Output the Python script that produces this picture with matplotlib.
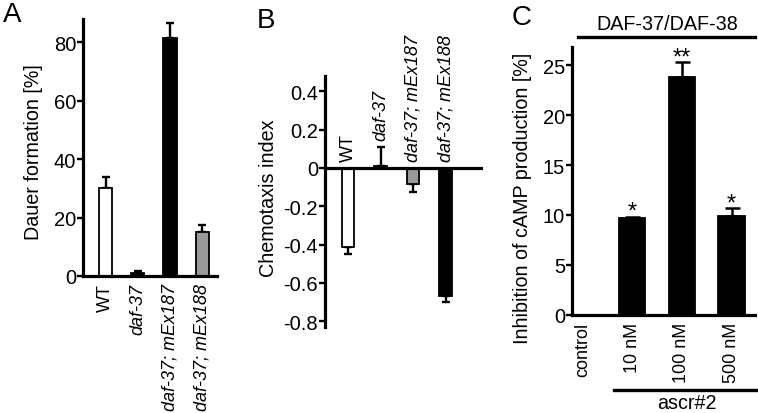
import matplotlib
matplotlib.use("Agg")
import matplotlib.pyplot as plt
import numpy as np

plt.rcParams['font.family'] = ['Liberation Sans', 'DejaVu Sans']

# ---- data ----
a_labels = ["WT", "daf-37", "daf-37; mEx187", "daf-37; mEx188"]
a_values = [30.1, 1.0, 81.4, 15.0]
a_errors = [3.8, 0.6, 5.1, 2.4]
a_colors = ["white", "black", "black", "#9a9a9a"]

b_labels = ["WT", "daf-37", "daf-37; mEx187", "daf-37; mEx188"]
b_values = [-0.41, 0.01, -0.083, -0.67]
b_errors = [0.037, 0.10, 0.042, 0.03]
b_colors = ["white", "black", "#9a9a9a", "black"]

c_labels = ["control", "10 nM", "100 nM", "500 nM"]
c_values = [0.0, 9.7, 23.8, 9.9]
c_errors = [0.0, 0.15, 1.5, 0.8]
c_stars = ["", "*", "**", "*"]

W, H = 758, 414
fig = plt.figure(figsize=(W/100, H/100), dpi=100)

def add_ax(x0, x1, ytop, ybot):
    return fig.add_axes([x0/W, 1-ybot/H, (x1-x0)/W, (ybot-ytop)/H])

TFS = 14.5  # tick labels
CFS = 13    # category labels
LFS = 14.2  # axis labels
SPW = 2.3

def style(ax):
    for s in ['top', 'right']:
        ax.spines[s].set_visible(False)
    for s in ['left', 'bottom']:
        ax.spines[s].set_linewidth(SPW)
    ax.tick_params(axis='y', direction='out', length=4, width=1.7, labelsize=TFS, pad=1)
    ax.tick_params(axis='x', length=0, labelsize=CFS, pad=5)

# ---- Panel A ----
axA = add_ax(83, 217, 20, 277)
style(axA)
xA = np.arange(len(a_labels))
axA.bar(xA, a_values, width=0.41, color=a_colors, edgecolor='black', linewidth=1.3, zorder=2)
axA.errorbar(xA, a_values, yerr=[np.zeros(len(a_errors)), a_errors], fmt='none',
             ecolor='black', elinewidth=1.7, capsize=3, capthick=1.7, zorder=1)
axA.set_xlim(-0.70, 3.46)
axA.set_ylim(0, 88)
axA.set_yticks([0, 20, 40, 60, 80])
axA.set_xticks(xA)
axA.set_xticklabels(a_labels, rotation=90, va='top')
for i, t in enumerate(axA.get_xticklabels()):
    if i > 0:
        t.set_style('italic')
axA.set_ylabel("Dauer formation [%]", fontsize=LFS)
axA.yaxis.set_label_coords(-0.30, 0.486)

# ---- Panel B ----
axB = add_ax(325, 483, 77, 328)
style(axB)
axB.spines['bottom'].set_visible(False)
xB = np.arange(len(b_labels))
axB.bar(xB, b_values, width=0.38, color=b_colors, edgecolor='black', linewidth=1.3, zorder=2)
lo = [e if v < 0 else 0 for v, e in zip(b_values, b_errors)]
hi = [e if v >= 0 else 0 for v, e in zip(b_values, b_errors)]
axB.errorbar(xB, b_values, yerr=[lo, hi], fmt='none', ecolor='black', elinewidth=1.7,
             capsize=3, capthick=1.7, zorder=1)
axB.axhline(0, color='black', lw=SPW, zorder=3)
axB.set_xlim(-0.71, 4.15)
axB.set_ylim(-0.83, 0.48)
axB.set_yticks([0.4, 0.2, 0, -0.2, -0.4, -0.6, -0.8])
axB.set_yticklabels(["0.4", "0.2", "0", "-0.2", "-0.4", "-0.6", "-0.8"])
axB.set_xticks([])
for i, lab in enumerate(b_labels):
    base = max(b_values[i] + hi[i], 0) + 0.035
    axB.text(xB[i], base, lab, rotation=90, ha='center', va='bottom', fontsize=CFS,
             style='normal' if i == 0 else 'italic')
axB.set_ylabel("Chemotaxis index", fontsize=LFS)
axB.yaxis.set_label_coords(-0.30, 0.518)

# ---- Panel C ----
axC = add_ax(572, 755, 48, 316)
style(axC)
xC = np.arange(len(c_labels))
axC.bar(xC, c_values, width=0.53, color='black', edgecolor='black', linewidth=1.3, zorder=2)
axC.errorbar(xC[1:], c_values[1:], yerr=[np.zeros(3), c_errors[1:]], fmt='none',
             ecolor='black', elinewidth=1.8, capsize=5.4, capthick=1.8, zorder=1)
axC.set_xlim(-0.21, 3.47)
axC.set_ylim(0, 26.8)
axC.set_yticks([0, 5, 10, 15, 20, 25])
axC.set_xticks(xC)
axC.set_xticklabels(c_labels, rotation=90, va='top')
for i, s in enumerate(c_stars):
    if s:
        axC.annotate(s, xy=(xC[i], c_values[i] + c_errors[i]), xytext=(0, -0.8),
                     textcoords='offset points', ha='center', va='baseline', fontsize=17)
axC.set_ylabel("Inhibition of cAMP production [%]", fontsize=LFS)
axC.yaxis.set_label_coords(-0.219, 0.44)

# annotation bars
fig.add_artist(plt.Line2D([578/W, 755/W], [1-38/H, 1-38/H], color='black', lw=2.4))
fig.text(667/W, 1-25/H, "DAF-37/DAF-38", ha='center', va='center', fontsize=LFS)
fig.add_artist(plt.Line2D([614/W, 757/W], [1-391/H, 1-391/H], color='black', lw=2.4))
fig.text(687/W, 1-404/H, "ascr#2", ha='center', va='center', fontsize=LFS)

# panel letters
fig.text(3/W, 1-22/H, "A", fontsize=20, ha='left', va='baseline')
fig.text(257/W, 1-28/H, "B", fontsize=20, ha='left', va='baseline')
fig.text(512/W, 1-25/H, "C", fontsize=20, ha='left', va='baseline')

fig.savefig("out.png", dpi=100)
